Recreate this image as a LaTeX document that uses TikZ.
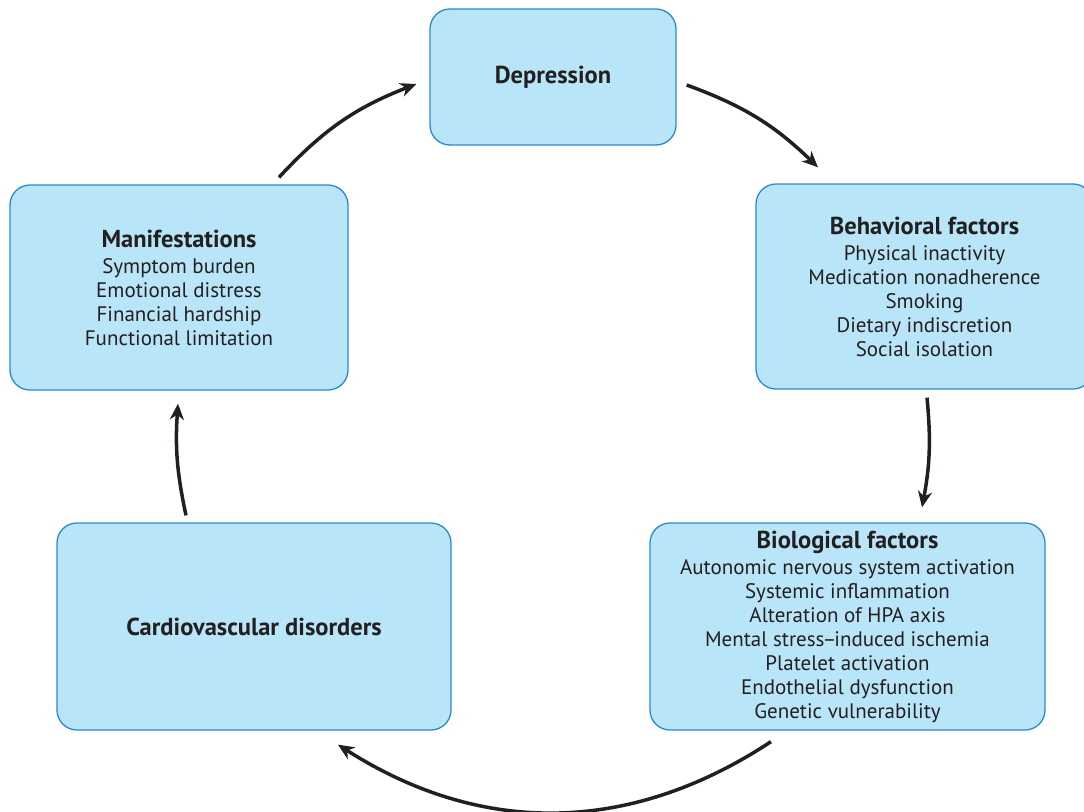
\documentclass[tikz,border=0pt]{standalone}
\usepackage{fontspec}
\setmainfont{PT Sans}
\usetikzlibrary{arrows.meta,calc}
\definecolor{boxfill}{HTML}{B9E5F8}
\definecolor{boxline}{HTML}{2A8BCB}
\definecolor{ink}{HTML}{231F20}
\newcommand{\ttlfont}{\fontsize{24.5}{24}\selectfont\bfseries}
\begin{document}
\begin{tikzpicture}[x=1pt,y=-1pt,
  box/.style={draw=boxline,fill=boxfill,line width=1.3pt,rounded corners=20pt,
    inner sep=0pt,align=center,text=ink,font=\fontsize{21}{24}\selectfont},
  arr/.style={draw=ink,line width=3.5pt,-{Stealth[length=16pt,width=14pt,inset=5pt]}}]
\clip (0,0) rectangle (1084,811);
\fill[white] (0,0) rectangle (1084,811);
\node[box,minimum width=246pt,minimum height=136pt] (dep) at (553,77)
  {\ttlfont Depression};
\node[box,minimum width=337pt,minimum height=205pt] (beh) at (924.5,286.5)
  {{\ttlfont Behavioral factors}\\[2pt]
   Physical inactivity\\Medication nonadherence\\Smoking\\Dietary indiscretion\\Social isolation};
\node[box,minimum width=395pt,minimum height=207pt] (bio) at (847.5,626.5)
  {{\ttlfont Biological factors}\\[2pt]
   Autonomic nervous system activation\\Systemic inflammation\\Alteration of HPA axis\\
   Mental stress\kern-2pt--\kern-2pt induced ischemia\\Platelet activation\\Endothelial dysfunction\\Genetic vulnerability};
\node[box,minimum width=394pt,minimum height=207pt] (cvd) at (254,626.5)
  {\ttlfont Cardiovascular disorders};
\node[box,minimum width=338pt,minimum height=205pt] (man) at (179,287.5)
  {{\ttlfont Manifestations}\\[2pt]
   Symptom burden\\Emotional distress\\Financial hardship\\Functional limitation};
\draw[arr] ([shift={(10,8)}]dep.east) to[bend left=12] ([shift={(-106.5,-16)}]beh.north);
\draw[arr] ([shift={(2.5,8)}]beh.south) to[bend left=8] ([shift={(74.5,-15)}]bio.north);
\draw[arr] ([shift={(-76.5,11)}]bio.south) to[bend left=33] ([shift={(84,14)}]cvd.south);
\draw[arr] ([shift={(-68,-7)}]cvd.north) to[bend left=8] ([shift={(-1,13)}]man.south);
\draw[arr] ([shift={(100,-7)}]man.north) to[bend left=13] ([shift={(-13,7)}]dep.west);
\end{tikzpicture}
\end{document}
